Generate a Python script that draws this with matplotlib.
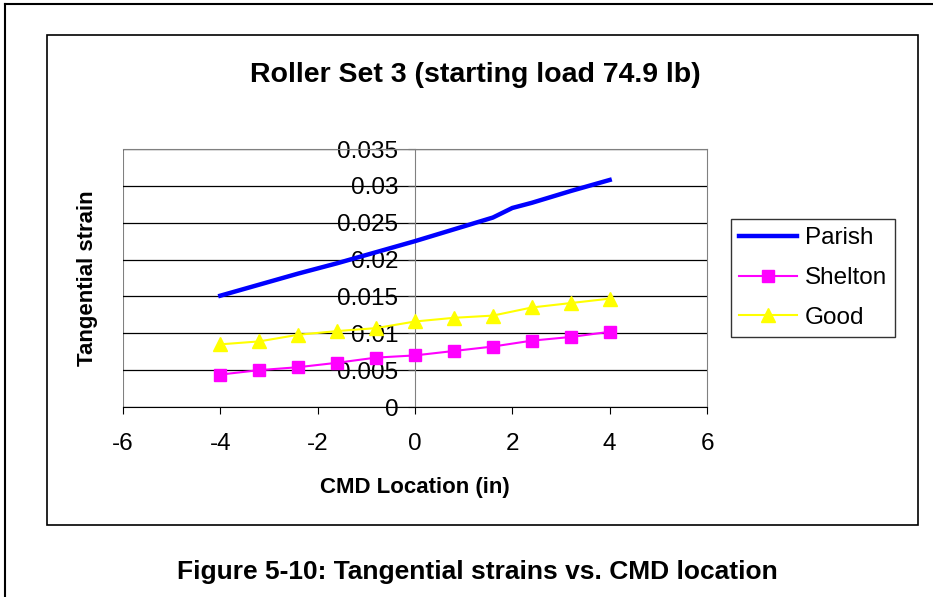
import matplotlib
matplotlib.use("Agg")
import matplotlib.pyplot as plt
from matplotlib.patches import Rectangle
from matplotlib.lines import Line2D

plt.rcParams['font.family'] = ['Liberation Sans', 'DejaVu Sans']

# CMD locations (in) and tangential strains for each roller
x_parish = [-4, -3.2, -2.4, -1.6, -0.8, 0, 0.8, 1.6, 2.0, 2.4, 3.2, 4]
parish = [0.0151, 0.0166, 0.0181, 0.0195, 0.0210, 0.0225, 0.0241, 0.0257,
          0.0270, 0.0277, 0.0293, 0.0308]

x_loc = [-4, -3.2, -2.4, -1.6, -0.8, 0, 0.8, 1.6, 2.4, 3.2, 4]
shelton = [0.0044, 0.0050, 0.0054, 0.0060, 0.0067, 0.0070, 0.0076, 0.0082,
           0.0090, 0.0095, 0.0102]
good = [0.0085, 0.0089, 0.0098, 0.0103, 0.0107, 0.0116, 0.0121, 0.0124,
        0.0135, 0.0141, 0.0147]

xticks = [-6, -4, -2, 0, 2, 4, 6]
yticks = [0, 0.005, 0.01, 0.015, 0.02, 0.025, 0.03, 0.035]
ytick_labels = ['0', '0.005', '0.01', '0.015', '0.02', '0.025', '0.03', '0.035']

fig = plt.figure(figsize=(9.33, 5.97), dpi=100)
W, H = 933, 597

# page border (left and top) and chart box
fig.add_artist(Line2D([5 / W, 5 / W], [0, 1 - 4 / H], color='black', lw=1.5))
fig.add_artist(Line2D([5 / W, 1], [1 - 4 / H, 1 - 4 / H], color='black', lw=1.5))
fig.add_artist(Rectangle((47 / W, 1 - 525 / H), (918 - 47) / W, (525 - 35) / H,
                         transform=fig.transFigure, fill=False,
                         edgecolor='black', lw=1.2))

ax = fig.add_axes([123 / W, 1 - 407 / H, 584 / W, 258 / H])

ax.plot(x_parish, parish, color='#0000FF', lw=3.2, label='Parish')
ax.plot(x_loc, shelton, color='#FF00FF', lw=1.5, marker='s', ms=8.5, label='Shelton')
ax.plot(x_loc, good, color='#FFFF00', lw=1.5, marker='^', ms=10, label='Good')

ax.set_xlim(-6, 6)
ax.set_ylim(0, 0.035)
ax.set_xticks(xticks)
ax.set_xticklabels([str(t) for t in xticks])
ax.set_yticks(yticks)
ax.set_yticklabels(ytick_labels)

ax.grid(axis='y', color='black', lw=0.9)
ax.set_axisbelow(True)

# y axis sits at x = 0, plot area frame is grey
ax.spines['left'].set_position(('data', 0))
ax.spines['left'].set_color('#808080')
ax.spines['left'].set_zorder(1)
ax.spines['top'].set_color('#808080')
ax.spines['right'].set_color('#808080')
ax.spines['bottom'].set_color('black')
ax.axvline(-6, color='#808080', lw=1.5, zorder=0)

ax.tick_params(axis='y', direction='out', length=5, pad=7, labelsize=17.5,
               color='#404040')
ax.tick_params(axis='x', direction='out', length=5, pad=14, labelsize=17.5)

fig.text(415 / W, 1 - 487 / H, 'CMD Location (in)', ha='center', va='center',
         fontsize=16, fontweight='bold')
fig.text(88 / W, 1 - 278 / H, 'Tangential strain', ha='center', va='center',
         rotation=90, fontsize=16, fontweight='bold')
fig.text(475 / W, 1 - 75 / H, 'Roller Set 3 (starting load 74.9 lb)',
         ha='center', va='center', fontsize=20.5, fontweight='bold')
fig.text(477 / W, 1 - 572 / H, 'Figure 5-10: Tangential strains vs. CMD location',
         ha='center', va='center', fontsize=19, fontweight='bold')

leg = fig.legend(loc='center', bbox_to_anchor=(813 / W, 1 - 278 / H),
                 fontsize=17.5, frameon=True, fancybox=False, edgecolor='black',
                 handlelength=2.4, borderpad=0.35, labelspacing=0.72,
                 handletextpad=0.3)
leg.get_frame().set_linewidth(1.0)

fig.savefig('out.png', dpi=100)
